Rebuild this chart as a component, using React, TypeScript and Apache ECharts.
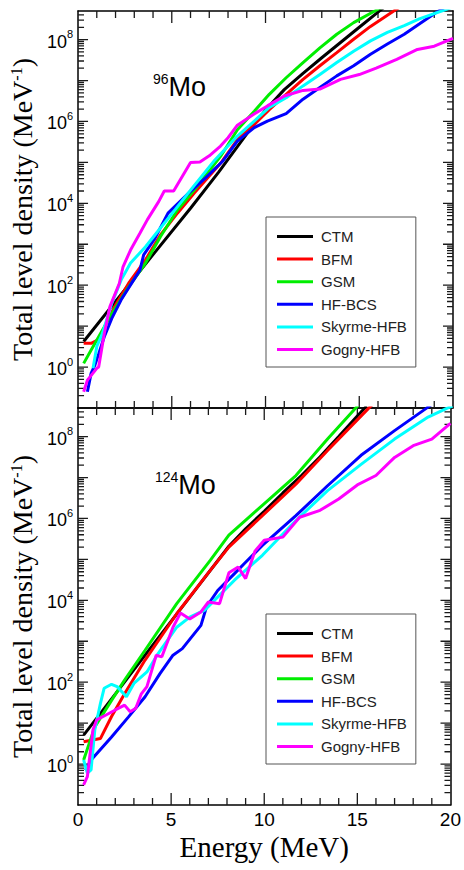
import React, { useEffect, useRef } from 'react';
import * as echarts from 'echarts';

const SERIES_NAMES = ['CTM', 'BFM', 'GSM', 'HF-BCS', 'Skyrme-HFB', 'Gogny-HFB'];
const COLORS = ['#000000', '#ff0000', '#00ee00', '#0000ff', '#00ffff', '#ff00ff'];

// ---- 96Mo (upper panel) ----
const E_CTM_96 = [0.3, 2, 4, 6, 7.5, 9, 10, 11, 12, 13, 14, 15, 16, 16.5];
const CTM_96 = [4.2, 40, 560, 7.6e3, 5.8e4, 5.0e5, 1.9e6, 6.0e6, 1.5e7, 3.6e7, 8.5e7, 2.0e8, 4.7e8, 7.1e8];
const E_BFM_96 = [0.3, 0.7, 1.2, 1.5, 2, 2.7, 3.6, 4.4, 5.3, 6.2, 7.6, 8.5, 9.4, 10.2, 11.1, 12, 12.9, 13.8, 14.7, 15.6, 16.9, 17.5];
const BFM_96 = [3.8, 3.8, 5.0, 11.7, 33, 112, 417, 1.7e3, 5.75e3, 1.78e4, 9.5e4, 3.6e5, 8.5e5, 1.95e6, 4.6e6, 1.07e7, 2.3e7, 4.8e7, 1.02e8, 2.1e8, 5.2e8, 7.9e8];
const E_GSM_96 = [0.3, 0.7, 1.2, 1.8, 2.7, 3.6, 4.4, 5.3, 6.2, 7.6, 8.5, 9.4, 10.2, 11.1, 12, 12.9, 13.8, 14.7, 15.9, 16.5];
const GSM_96 = [1.23, 2.6, 6.6, 20, 91, 347, 1.55e3, 6.9e3, 2.1e4, 1.4e5, 6.3e5, 1.78e6, 4.6e6, 1.17e7, 2.75e7, 6.3e7, 1.35e8, 2.6e8, 5.2e8, 7.4e8];
const E_HFBCS_96 = [0.5, 0.7, 0.9, 1.1, 1.4, 1.8, 2.3, 2.8, 3.3, 3.5, 4.1, 4.8, 5.9, 6.8, 7.7, 8.5, 9.4, 10.1, 11.1, 12, 12.9, 13.8, 14.7, 15.6, 16.5, 17.4, 18.2, 19.1, 19.6];
const HFBCS_96 = [0.25, 0.71, 1.12, 2.1, 5.5, 15.5, 44, 102, 234, 550, 1.4e3, 5.75e3, 1.78e4, 4.2e4, 1.05e5, 3.3e5, 7.1e5, 1.02e6, 1.55e6, 3.5e6, 6.8e6, 1.3e7, 2.3e7, 4.4e7, 7.8e7, 1.35e8, 2.4e8, 4.6e8, 6.3e8];
const E_SKY_96 = [0.8, 1.0, 1.3, 1.8, 2.3, 2.8, 3.6, 4.3, 5.2, 6.0, 7.3, 8.5, 9.4, 10.2, 11.1, 12, 12.9, 13.8, 14.7, 15.6, 16.5, 17.4, 18.2, 19.5, 20];
const SKY_96 = [0.93, 3.2, 6.6, 36, 135, 347, 871, 2.2e3, 7.2e3, 2.1e4, 1.15e5, 4.4e5, 1.02e6, 2.2e6, 3.8e6, 7.4e6, 1.4e7, 2.75e7, 5.2e7, 9.3e7, 1.5e8, 2.2e8, 3.2e8, 5.2e8, 6.3e8];
const E_GOG_96 = [0.3, 0.5, 1.0, 1.1, 1.4, 1.7, 2.2, 2.4, 2.8, 3.3, 3.7, 4.3, 4.6, 5.1, 6.0, 6.5, 7.0, 7.6, 8.0, 8.5, 9.35, 10.1, 11.0, 12.0, 12.9, 14.0, 15.0, 15.9, 17.0, 18.1, 19.0, 20];
const GOG_96 = [0.25, 0.48, 0.93, 1.0, 6.6, 30, 110, 282, 724, 1.86e3, 4.0e3, 1.1e4, 2.0e4, 2.0e4, 1.0e5, 1.02e5, 1.45e5, 2.5e5, 4.0e5, 8.1e5, 1.48e6, 2.4e6, 4.2e6, 5.75e6, 6.2e6, 1.07e7, 1.4e7, 2.0e7, 3.3e7, 5.75e7, 6.9e7, 1.07e8];

// ---- 124Mo (lower panel) ----
const E_CTM_124 = [0.3, 2, 4, 6, 8.1, 9, 10, 11, 12, 13, 14, 15, 15.5];
const CTM_124 = [5.1, 51, 794, 1.2e4, 2.1e5, 5.6e5, 1.5e6, 4.2e6, 1.12e7, 3.2e7, 1.0e8, 3.2e8, 5.6e8];
const E_BFM_124 = [0.3, 1.2, 1.8, 2.5, 3.6, 5.3, 7.1, 8.1, 9.9, 11.7, 13.4, 15.6, 16];
const BFM_124 = [3.5, 4.2, 14.5, 52, 347, 4.7e3, 5.4e4, 2.0e5, 1.17e6, 6.9e6, 4.6e7, 4.9e8, 7.4e8];
const E_GSM_124 = [0.3, 0.9, 1.8, 2.5, 3.6, 5.3, 7.1, 8.1, 9.9, 11.7, 13.4, 14.9, 15.3];
const GSM_124 = [1.26, 8.1, 36, 112, 603, 8.3e3, 9.5e4, 3.9e5, 2.1e6, 1.12e7, 8.7e7, 4.9e8, 7.9e8];
const E_HFBCS_124 = [0.4, 0.7, 1.8, 2.7, 3.6, 4.4, 5.1, 5.6, 6.6, 6.9, 7.5, 8.4, 9.0, 9.9, 11.7, 13.4, 15.2, 17.0, 18.7, 19.2];
const HFBCS_124 = [0.71, 1.26, 4.6, 14, 44, 162, 457, 661, 2.45e3, 6.9e3, 1.74e4, 4.5e4, 8.5e4, 2.2e5, 1.17e6, 6.3e6, 3.5e7, 1.4e8, 4.9e8, 7.1e8];
const E_SKY_124 = [0.3, 0.5, 0.7, 0.9, 1.2, 1.4, 1.8, 2.1, 2.6, 3.0, 3.7, 4.3, 4.8, 5.3, 6.0, 6.8, 7.5, 8.4, 9.9, 11.7, 13.4, 15.2, 17.0, 18.8, 19.8, 20.2];
const SKY_124 = [1.26, 0.6, 0.72, 6.8, 30, 71, 89, 78, 44, 93, 178, 501, 1.05e3, 2.2e3, 3.9e3, 5.75e3, 1.2e4, 3.1e4, 1.26e5, 8.9e5, 4.8e6, 2.1e7, 8.7e7, 3.0e8, 4.9e8, 5.8e8];
const E_GOG_124 = [0.3, 0.5, 0.8, 1.0, 1.5, 2.0, 2.5, 2.8, 3.1, 3.4, 3.7, 4.2, 4.5, 5.1, 5.5, 6.0, 6.6, 7.0, 7.6, 8.1, 8.6, 9.0, 9.5, 10.0, 11.0, 11.9, 13.0, 14.0, 15.0, 16.0, 17.0, 18.0, 19.0, 20.0];
const GOG_124 = [0.31, 0.49, 6.8, 12, 15.8, 21, 27.5, 19, 23, 52, 78, 457, 417, 2.2e3, 4.9e3, 3.5e3, 5.2e3, 9.1e3, 8.3e3, 4.7e4, 6.5e4, 3.4e4, 1.58e5, 2.95e5, 3.5e5, 1.07e6, 1.58e6, 3.0e6, 6.6e6, 1.12e7, 3.1e7, 6.0e7, 8.7e7, 2.1e8];

const PANEL_96 = [
  [E_CTM_96, CTM_96], [E_BFM_96, BFM_96], [E_GSM_96, GSM_96],
  [E_HFBCS_96, HFBCS_96], [E_SKY_96, SKY_96], [E_GOG_96, GOG_96],
];
const PANEL_124 = [
  [E_CTM_124, CTM_124], [E_BFM_124, BFM_124], [E_GSM_124, GSM_124],
  [E_HFBCS_124, HFBCS_124], [E_SKY_124, SKY_124], [E_GOG_124, GOG_124],
];

// axis ranges and tick positions
const X_MIN = 0;
const X_MAX = 20;
const Y_MIN = 0.1;
const Y_MAX = 5e8;
const X_MAJOR_TICKS = [5, 10, 15];
const X_MINOR_TICKS = [1, 2, 3, 4, 6, 7, 8, 9, 11, 12, 13, 14, 16, 17, 18, 19];
const Y_MAJOR_TICKS = [1, 10, 100, 1e3, 1e4, 1e5, 1e6, 1e7, 1e8];
const Y_MINOR_TICKS: number[] = [];
for (let n = -1; n <= 8; n++) {
  for (let k = 2; k <= 9; k++) {
    const v = k * Math.pow(10, n);
    if (v < Y_MAX * 0.999) Y_MINOR_TICKS.push(v);
  }
}

// tick lengths in axis units (12 px / 7 px vertical on log axis, 10 px / 6 px horizontal)
const X_PX_PER_UNIT = 375 / (X_MAX - X_MIN);
const Y_PX_PER_DECADE = 397 / Math.log10(Y_MAX / Y_MIN);
const yFactor = (px: number) => Math.pow(10, px / Y_PX_PER_DECADE);
const xLen = (px: number) => px / X_PX_PER_UNIT;

const GAP = ['-', '-'];
const buildTicks = () => {
  const d: any[] = [];
  const seg = (a: number[], b: number[]) => d.push(a, b, GAP);
  X_MAJOR_TICKS.forEach((x) => {
    seg([x, Y_MIN], [x, Y_MIN * yFactor(12)]);
    seg([x, Y_MAX], [x, Y_MAX / yFactor(12)]);
  });
  X_MINOR_TICKS.forEach((x) => {
    seg([x, Y_MIN], [x, Y_MIN * yFactor(7)]);
    seg([x, Y_MAX], [x, Y_MAX / yFactor(7)]);
  });
  Y_MAJOR_TICKS.forEach((v) => {
    seg([X_MIN, v], [X_MIN + xLen(10), v]);
    seg([X_MAX, v], [X_MAX - xLen(10), v]);
  });
  Y_MINOR_TICKS.forEach((v) => {
    seg([X_MIN, v], [X_MIN + xLen(6), v]);
    seg([X_MAX, v], [X_MAX - xLen(6), v]);
  });
  return d;
};

const FRAME = '#000000';
const TICK = '#1a1a1a';
const HIDDEN_SPLIT = { show: false };

const Y_TITLE = 'Total level density (MeV{sup|-1})';
const titleStyle = {
  fontSize: 28,
  fontFamily: 'Liberation Serif',
  fontWeight: 'normal',
  color: '#000',
  rich: {
    sup: { fontSize: 16, fontFamily: 'Liberation Serif', color: '#000', verticalAlign: 'top', lineHeight: 16 },
  },
};

const xAxisDef = (gridIndex: number, position: string, showLabel: boolean, name?: string) => ({
  type: 'value',
  gridIndex,
  position,
  min: X_MIN,
  max: X_MAX,
  interval: 5,
  name: name || '',
  nameLocation: 'middle',
  nameGap: 27,
  nameTextStyle: { fontSize: 29, fontFamily: 'Liberation Serif', color: '#000' },
  axisLine: { show: true, onZero: false, lineStyle: { color: FRAME, width: 1.5 } },
  axisTick: { show: false },
  minorTick: { show: false },
  splitLine: HIDDEN_SPLIT,
  axisLabel: { show: showLabel, fontSize: 19, fontFamily: 'Liberation Sans', color: '#000', margin: 5 },
});

const yLabelFormatter = (v: number) => {
  const l = Math.log10(v);
  const e = Math.round(l);
  if (Math.abs(l - e) > 1e-6 || e % 2 !== 0 || e < 0) return '';
  return `{b|10}{s|${e}}`;
};

const yAxisDef = (gridIndex: number, position: string, showLabel: boolean) => ({
  type: 'log',
  logBase: 10,
  gridIndex,
  position,
  min: Y_MIN,
  max: Y_MAX,
  splitNumber: 10,
  name: showLabel ? Y_TITLE : '',
  nameLocation: 'middle',
  nameRotate: 90,
  nameGap: 33,
  nameTextStyle: titleStyle,
  axisLine: { show: true, onZero: false, lineStyle: { color: FRAME, width: 1.5 } },
  axisTick: { show: false },
  splitLine: HIDDEN_SPLIT,
  axisLabel: {
    show: showLabel,
    margin: 5,
    formatter: yLabelFormatter,
    rich: {
      b: { fontSize: 18, fontFamily: 'Liberation Sans', color: '#000', lineHeight: 22, verticalAlign: 'bottom' },
      s: { fontSize: 11, fontFamily: 'Liberation Sans', color: '#000', lineHeight: 11, verticalAlign: 'top' },
    },
  },
});

const tickSeries = (xi: number, yi: number) => ({
  type: 'line',
  name: 'ticks' + yi,
  xAxisIndex: xi,
  yAxisIndex: yi,
  data: buildTicks(),
  symbol: 'none',
  connectNulls: false,
  clip: false,
  silent: true,
  z: 1,
  lineStyle: { color: TICK, width: 1.3 },
  itemStyle: { color: TICK },
});

const lineSeries = (panel: number[][][], xi: number, yi: number) =>
  panel.map(([xs, ys], i) => ({
    type: 'line',
    name: SERIES_NAMES[i],
    xAxisIndex: xi,
    yAxisIndex: yi,
    data: xs.map((x, j) => [x, ys[j]]),
    symbol: 'none',
    z: 2,
    lineStyle: { color: COLORS[i], width: 3 },
    itemStyle: { color: COLORS[i] },
  }));

const legendDef = (top: number) => ({
  orient: 'vertical',
  left: 266,
  top,
  data: SERIES_NAMES,
  icon: 'rect',
  itemWidth: 36,
  itemHeight: 3,
  itemGap: 7.6,
  padding: [12, 9, 10, 11],
  borderColor: '#555',
  borderWidth: 1,
  backgroundColor: '#fff',
  selectedMode: false,
  textStyle: { fontSize: 15, lineHeight: 15, fontFamily: 'Liberation Sans', color: '#222', padding: [0, 0, 0, 3] },
});

const isoTitle = (mass: string, left: number, top: number) => ({
  text: `{s|${mass}}{m|Mo}`,
  left,
  top,
  padding: 0,
  textStyle: {
    fontWeight: 'normal',
    rich: {
      s: { fontSize: 14, fontWeight: 'normal', fontFamily: 'Liberation Sans', color: '#000', verticalAlign: 'top', lineHeight: 14 },
      m: { fontSize: 27, fontWeight: 'normal', fontFamily: 'Liberation Sans', color: '#000', verticalAlign: 'bottom', lineHeight: 28 },
    },
  },
});

export default function App() {
  const ref = useRef<HTMLDivElement>(null);
  useEffect(() => {
    if (!ref.current) return;
    const chart = echarts.init(ref.current, undefined, { renderer: 'svg' });
    const option: any = {
      animation: false,
      backgroundColor: '#fff',
      title: [isoTitle('96', 153, 72), isoTitle('124', 155, 470)],
      grid: [
        { left: 78, top: 11, width: 375, height: 397 },
        { left: 78, top: 408, width: 375, height: 397 },
      ],
      xAxis: [
        xAxisDef(0, 'bottom', false),
        xAxisDef(0, 'top', false),
        xAxisDef(1, 'top', false),
        xAxisDef(1, 'bottom', true, 'Energy (MeV)'),
      ],
      yAxis: [
        yAxisDef(0, 'left', true),
        yAxisDef(0, 'right', false),
        yAxisDef(1, 'left', true),
        yAxisDef(1, 'right', false),
      ],
      legend: [legendDef(217), legendDef(614)],
      series: [
        tickSeries(0, 0),
        tickSeries(3, 2),
        ...lineSeries(PANEL_96, 0, 0),
        ...lineSeries(PANEL_124, 3, 2),
      ],
    };
    chart.setOption(option);
    return () => chart.dispose();
  }, []);
  return (
    <div
      ref={ref}
      style={{ position: 'absolute', left: 0, top: 0, width: 464, height: 870 }}
    />
  );
}
